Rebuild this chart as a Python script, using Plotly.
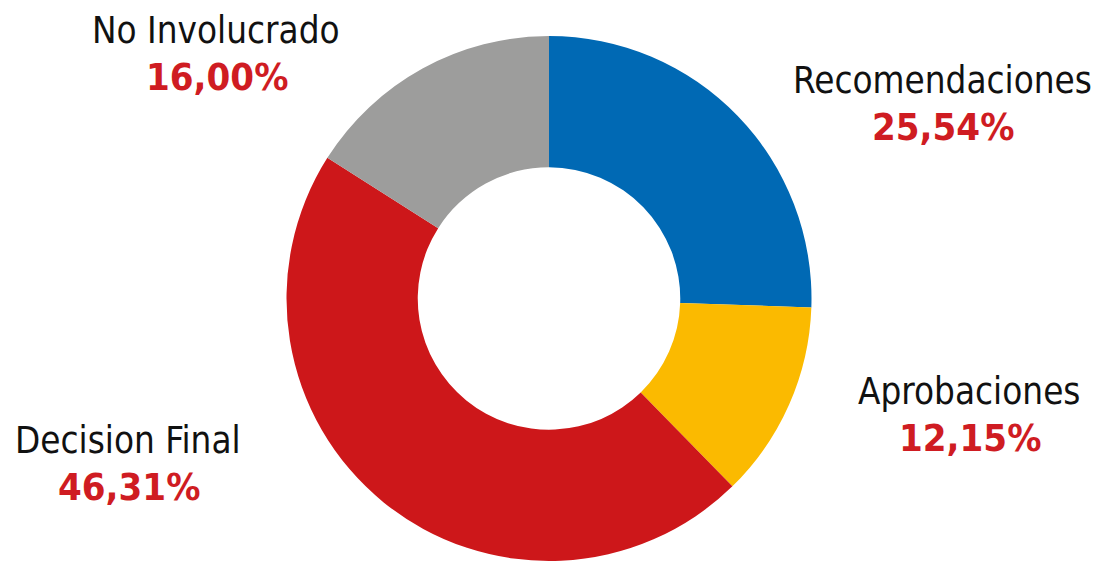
import plotly.graph_objects as go

categories = ["Recomendaciones", "Aprobaciones", "Decision Final", "No Involucrado"]
values = [25.54, 12.15, 46.31, 16.00]
pct_labels = ["25,54%", "12,15%", "46,31%", "16,00%"]
colors = ["#0069B4", "#FBBA00", "#CD171A", "#9D9D9C"]

W, H = 1095, 563
# label centres in pixels (x, y of name; percent sits below)
label_pos = [(942, 80), (969, 391), (128, 440), (216, 30)]

fig = go.Figure(go.Pie(
    labels=categories, values=values, hole=0.5, sort=False,
    direction="clockwise", rotation=0,
    marker=dict(colors=colors, line=dict(width=0)),
    textinfo="none", hoverinfo="label+percent",
    domain=dict(x=[286 / W, 812 / W], y=[2 / H, 527 / H]),
    showlegend=False,
))

font = "DejaVu Sans Condensed, DejaVu Sans, sans-serif"
for (x, y), name, pct in zip(label_pos, categories, pct_labels):
    fig.add_annotation(x=x / W, y=1 - y / H, xref="paper", yref="paper",
                       text=name, showarrow=False, xanchor="center", yanchor="middle",
                       font=dict(family=font, size=36.5, color="#111111"))
    fig.add_annotation(x=(x + 1) / W, y=1 - (y + 47) / H, xref="paper", yref="paper",
                       text="<b>" + pct + "</b>", showarrow=False, xanchor="center", yanchor="middle",
                       font=dict(family=font, size=38, color="#CF1C22"))

fig.update_layout(width=W, height=H, margin=dict(l=0, r=0, t=0, b=0),
                  paper_bgcolor="white", plot_bgcolor="white")
fig.write_html("out.html", config={"displayModeBar": False},
               post_script="document.body.style.margin='0';")
